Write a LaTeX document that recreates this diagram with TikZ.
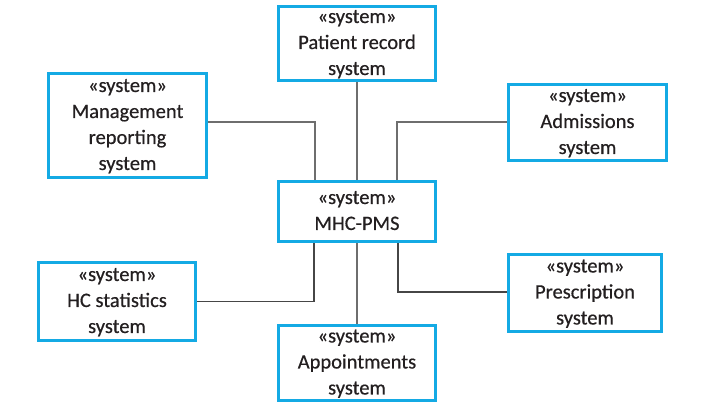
\documentclass[tikz,border=0pt]{standalone}
\usepackage{fontspec}
\setmainfont{Carlito}[FakeBold=0.5]
\definecolor{boxblue}{RGB}{20,170,228}
\definecolor{txt}{RGB}{35,31,32}
\definecolor{lnA}{RGB}{110,110,110}
\definecolor{lnB}{RGB}{70,70,70}
\begin{document}
\begin{tikzpicture}[x=1pt,y=-1pt,
  sysbox/.style={draw=boxblue,line width=3pt,inner sep=0pt,align=center,
    text=txt,font=\fontsize{20.5}{26}\selectfont},
  conn/.style={line width=1.5pt}]
\useasboundingbox (0,0) rectangle (705,411);
\node[sysbox,minimum width=157,minimum height=74,text depth=2pt] (pr) at (357,43.5) {«system»\\Patient record\\system};
\node[sysbox,minimum width=158,minimum height=104,text depth=2pt] (mr) at (127.5,125.5) {«system»\\Management\\reporting\\system};
\node[sysbox,minimum width=158,minimum height=76,text depth=2pt] (ad) at (587.5,122.5) {«system»\\Admissions\\system};
\node[sysbox,minimum width=157,minimum height=60,text depth=2pt] (mhc) at (357,211.5) {«system»\\MHC-PMS};
\node[sysbox,minimum width=157,minimum height=78,text depth=2pt] (hc) at (117,301.5) {«system»\\HC statistics\\system};
\node[sysbox,minimum width=157,minimum height=75,text depth=2pt] (ap) at (357,363) {«system»\\Appointments\\system};
\node[sysbox,minimum width=153,minimum height=77,text depth=2pt] (ps) at (585,293) {«system»\\Prescription\\system};
\draw[conn,lnA] (pr.south) -- (mhc.north);
\draw[conn,lnA] (mr.east |- 0,122) -| ([xshift=-42]mhc.north);
\draw[conn,lnA] (ad.west |- 0,122) -| ([xshift=40]mhc.north);
\draw[conn,lnB] (hc.east) -| ([xshift=-43]mhc.south);
\draw[conn,lnA] (ap.north) -- (mhc.south);
\draw[conn,lnB] (ps.west |- 0,292) -| ([xshift=41]mhc.south);
\end{tikzpicture}
\end{document}
